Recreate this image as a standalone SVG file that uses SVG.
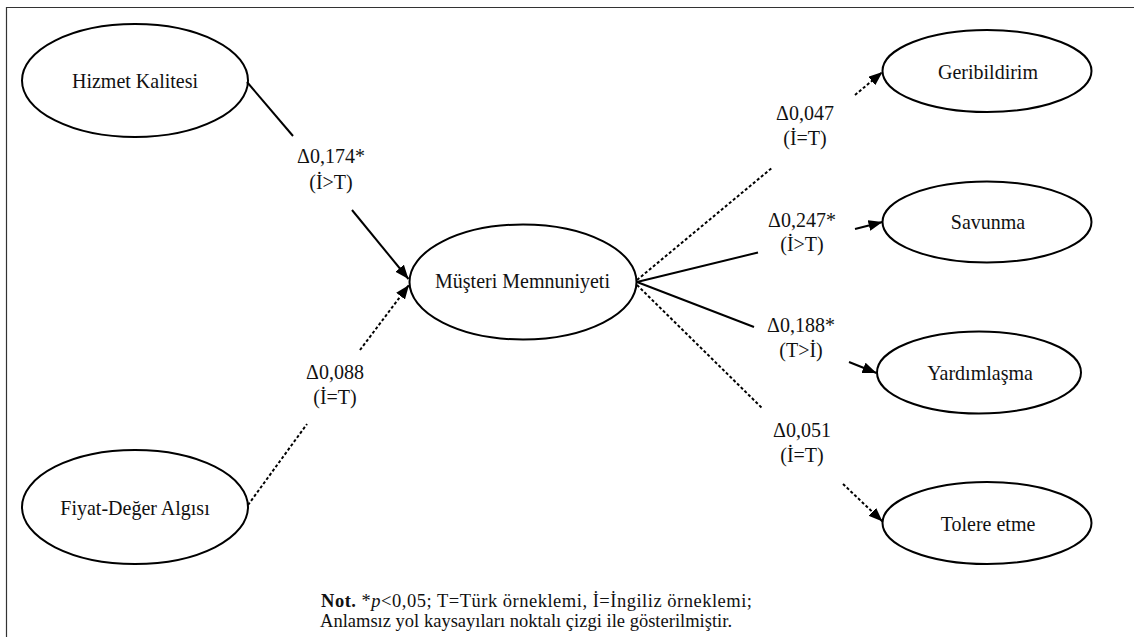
<svg xmlns="http://www.w3.org/2000/svg" width="1134" height="637" viewBox="0 0 1134 637">
  <style>
    .node ellipse { fill: #fff; stroke: #000; stroke-width: 2; }
    .t { font-family: 'Liberation Serif', Tinos, 'Times New Roman', serif; font-size: 20px; fill: #111; text-anchor: middle; }
    .edge { fill: none; stroke: #000; stroke-width: 2; }
    .dot { stroke-dasharray: 3 2.2; }
    .note { font-family: 'Liberation Serif', Tinos, 'Times New Roman', serif; font-size: 18.5px; fill: #111; }
  </style>
  <defs>
    <marker id="arrow" markerUnits="userSpaceOnUse" markerWidth="15" markerHeight="12" refX="14" refY="5.5" orient="auto">
      <path d="M0,0 L14,5.5 L0,11 Z" fill="#000"/>
    </marker>
  </defs>

  <rect width="1134" height="637" fill="#fff"/>
  <!-- frame (open to the right and bottom) -->
  <path d="M6.5,637 V7.5 H1134" fill="none" stroke="#333" stroke-width="1.2"/>

  <!-- latent variables -->
  <g id="hizmet-kalitesi" class="node">
    <ellipse cx="135" cy="80.5" rx="113" ry="56.5"/>
    <text class="t" transform="translate(135,87.5) scale(1,1.1)">Hizmet Kalitesi</text>
  </g>
  <g id="fiyat-deger-algisi" class="node">
    <ellipse cx="135" cy="507" rx="113" ry="57"/>
    <text class="t" transform="translate(135,515) scale(1,1.1)">Fiyat-Değer Algısı</text>
  </g>
  <g id="musteri-memnuniyeti" class="node">
    <ellipse cx="523" cy="282" rx="113.5" ry="57.5"/>
    <text class="t" transform="translate(522.5,288) scale(1,1.1)">Müşteri Memnuniyeti</text>
  </g>
  <g id="geribildirim" class="node">
    <ellipse cx="987" cy="71" rx="104.5" ry="41"/>
    <text class="t" transform="translate(988,78.5) scale(1,1.1)">Geribildirim</text>
  </g>
  <g id="savunma" class="node">
    <ellipse cx="987" cy="222" rx="104.5" ry="40.5"/>
    <text class="t" transform="translate(988,229) scale(1,1.1)">Savunma</text>
  </g>
  <g id="yardimlasma" class="node">
    <ellipse cx="979" cy="372.5" rx="102" ry="41"/>
    <text class="t" transform="translate(980,379.5) scale(1,1.1)">Yardımlaşma</text>
  </g>
  <g id="tolere-etme" class="node">
    <ellipse cx="987" cy="523" rx="104.5" ry="41"/>
    <text class="t" transform="translate(988,531) scale(1,1.1)">Tolere etme</text>
  </g>

  <!-- paths: each is split around its coefficient label -->
  <g id="connectors">
    <path class="edge" d="M247,82 L293,136"/>
    <path class="edge" d="M352,210 L408.5,279" marker-end="url(#arrow)"/>

    <path class="edge dot" d="M248,505 L307,424"/>
    <path class="edge dot" d="M360,350 L409,285" marker-end="url(#arrow)"/>

    <path class="edge dot" d="M637,280 L773,167"/>
    <path class="edge dot" d="M855,95 L882.5,72" marker-end="url(#arrow)"/>

    <path class="edge" d="M637,282 L758,252.5"/>
    <path class="edge" d="M855,229 L882.5,222" marker-end="url(#arrow)"/>

    <path class="edge" d="M637,282 L754,327"/>
    <path class="edge" d="M849,362 L876.5,373" marker-end="url(#arrow)"/>

    <path class="edge dot" d="M637,285 L763,409"/>
    <path class="edge dot" d="M843,484 L882.5,521.5" marker-end="url(#arrow)"/>
  </g>

  <!-- coefficient labels -->
  <g id="labels">
    <text class="t" transform="translate(331,163) scale(1,1.1)">Δ0,174*</text>
    <text class="t" transform="translate(331,189) scale(1,1.1)">(İ&gt;T)</text>

    <text class="t" transform="translate(335,379) scale(1,1.1)">Δ0,088</text>
    <text class="t" transform="translate(335,404) scale(1,1.1)">(İ=T)</text>

    <text class="t" transform="translate(805,120) scale(1,1.1)">Δ0,047</text>
    <text class="t" transform="translate(805,145) scale(1,1.1)">(İ=T)</text>

    <text class="t" transform="translate(802,227) scale(1,1.1)">Δ0,247*</text>
    <text class="t" transform="translate(802,251) scale(1,1.1)">(İ&gt;T)</text>

    <text class="t" transform="translate(801,332) scale(1,1.1)">Δ0,188*</text>
    <text class="t" transform="translate(801,357) scale(1,1.1)">(T&gt;İ)</text>

    <text class="t" transform="translate(802,437) scale(1,1.1)">Δ0,051</text>
    <text class="t" transform="translate(802,462) scale(1,1.1)">(İ=T)</text>
  </g>

  <!-- note -->
  <g id="note">
    <text class="note" x="321" y="607" textLength="431" lengthAdjust="spacing"><tspan font-weight="bold">Not.</tspan> *<tspan font-style="italic">p</tspan>&lt;0,05; T=Türk örneklemi, İ=İngiliz örneklemi;</text>
    <text class="note" x="320" y="627" textLength="412" lengthAdjust="spacing">Anlamsız yol kaysayıları noktalı çizgi ile gösterilmiştir.</text>
  </g>
</svg>
